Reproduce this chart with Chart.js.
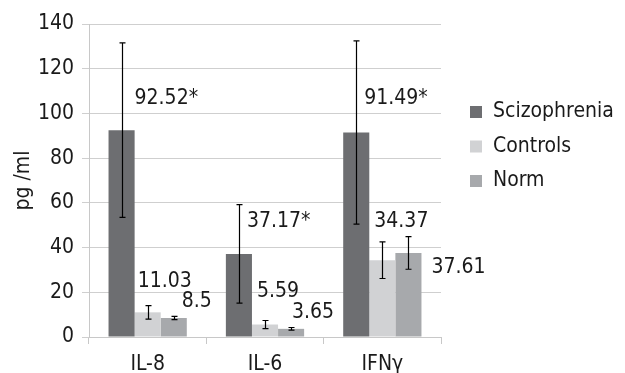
<!DOCTYPE html>
<html>
<head>
<meta charset="utf-8">
<script src="https://cdn.jsdelivr.net/npm/chart.js@4/dist/chart.umd.min.js"></script>
<style>
  html, body { margin: 0; padding: 0; background: #fff; }
  #wrap { width: 625px; height: 373px; }
</style>
</head>
<body>
<div id="wrap"><canvas id="cytoChart" width="625" height="373"></canvas></div>
<script>
const categories = ['IL-8', 'IL-6', 'IFNγ'];
const seriesNames = ['Scizophrenia', 'Controls', 'Norm'];
const scizophrenia = [92.52, 37.17, 91.49];
const controls = [11.03, 5.59, 34.37];
const norm = [8.5, 3.65, 37.61];
const scizophreniaErr = [39, 22, 41];
const controlsErr = [3, 1.8, 8.2];
const normErr = [0.7, 0.6, 7.3];
const scizophreniaMark = ['*', '*', '*'];
const yTicks = [0, 20, 40, 60, 80, 100, 120, 140];

const FONT = '"Liberation Sans Narrow", "DejaVu Sans Condensed", "Roboto", sans-serif';
const FSIZE = 21;
const colors = ['#6d6e71', '#d1d2d4', '#a7a9ac'];

// where each value label sits, relative to bar centre / bar top (px)
const labelOffsets = [
  [[13, -32], [8, -32], [8, -34]],
  [[-10, -31], [-8, -33], [-8, -39]],
  [[8, -16], [1, -16], [23, 15]]
];

const ctx = document.getElementById('cytoChart').getContext('2d');

const errorBars = {
  id: 'errorBars',
  afterDatasetsDraw(chart) {
    const c = chart.ctx;
    const y = chart.scales.y;
    c.save();
    c.strokeStyle = '#000';
    c.lineWidth = 1.2;
    chart.data.datasets.forEach((ds, di) => {
      const meta = chart.getDatasetMeta(di);
      meta.data.forEach((bar, i) => {
        const v = ds.data[i];
        const e = ds.errors[i];
        const top = y.getPixelForValue(v + e);
        const bot = y.getPixelForValue(v - e);
        const x = Math.round(bar.x) + 0.5;
        c.beginPath();
        c.moveTo(x, top); c.lineTo(x, bot);
        c.moveTo(x - 3, top); c.lineTo(x + 3, top);
        c.moveTo(x - 3, bot); c.lineTo(x + 3, bot);
        c.stroke();
      });
    });
    c.restore();
  }
};

const valueLabels = {
  id: 'valueLabels',
  afterDatasetsDraw(chart) {
    const c = chart.ctx;
    c.save();
    c.fillStyle = '#1a1a1a';
    c.font = FSIZE + 'px ' + FONT;
    c.textAlign = 'left';
    c.textBaseline = 'middle';
    chart.data.datasets.forEach((ds, di) => {
      const meta = chart.getDatasetMeta(di);
      meta.data.forEach((bar, i) => {
        const off = labelOffsets[di][i];
        const txt = String(ds.data[i]) + (ds.marks ? ds.marks[i] : '');
        c.fillText(txt, bar.x + off[0], bar.y + off[1]);
      });
    });
    c.restore();
  }
};

const sideLegend = {
  id: 'sideLegend',
  afterDraw(chart) {
    const c = chart.ctx;
    c.save();
    c.font = FSIZE + 'px ' + FONT;
    c.textBaseline = 'middle';
    c.textAlign = 'left';
    chart.data.datasets.forEach((ds, i) => {
      const yy = 112 + i * 34.5;
      c.fillStyle = ds.backgroundColor;
      c.fillRect(470, yy - 6, 12, 12);
      c.fillStyle = '#1a1a1a';
      c.fillText(ds.label, 493, yy);
    });
    c.restore();
  }
};

new Chart(ctx, {
  type: 'bar',
  data: {
    labels: categories,
    datasets: [
      { label: seriesNames[0], data: scizophrenia, errors: scizophreniaErr, marks: scizophreniaMark, backgroundColor: colors[0] },
      { label: seriesNames[1], data: controls, errors: controlsErr, backgroundColor: colors[1] },
      { label: seriesNames[2], data: norm, errors: normErr, backgroundColor: colors[2] }
    ]
  },
  options: {
    responsive: false,
    animation: false,
    devicePixelRatio: 1,
    layout: { padding: { top: 24, right: 184, left: 0, bottom: 0 } },
    datasets: { bar: { categoryPercentage: 0.667, barPercentage: 1 } },
    plugins: {
      legend: { display: false },
      tooltip: { enabled: false }
    },
    scales: {
      x: {
        offset: true,
        grid: { display: true, drawOnChartArea: false, offset: true, tickLength: 7, color: '#c8c8c8' },
        border: { color: '#c8c8c8' },
        ticks: { color: '#1a1a1a', font: { family: FONT, size: FSIZE }, padding: 8 },
        afterFit(scale) { scale.height = 36; }
      },
      y: {
        min: 0,
        max: 140,
        afterBuildTicks(scale) { scale.ticks = yTicks.map(v => ({ value: v })); },
        afterFit(scale) { scale.width = 89; },
        grid: { color: '#cfcfcf', tickLength: 7 },
        border: { color: '#c8c8c8' },
        ticks: { color: '#1a1a1a', font: { family: FONT, size: FSIZE }, padding: 8 },
        title: { display: true, text: 'pg /ml', color: '#1a1a1a', font: { family: FONT, size: FSIZE }, padding: { top: 11, bottom: 0 } }
      }
    }
  },
  plugins: [errorBars, valueLabels, sideLegend]
});
</script>
</body>
</html>
